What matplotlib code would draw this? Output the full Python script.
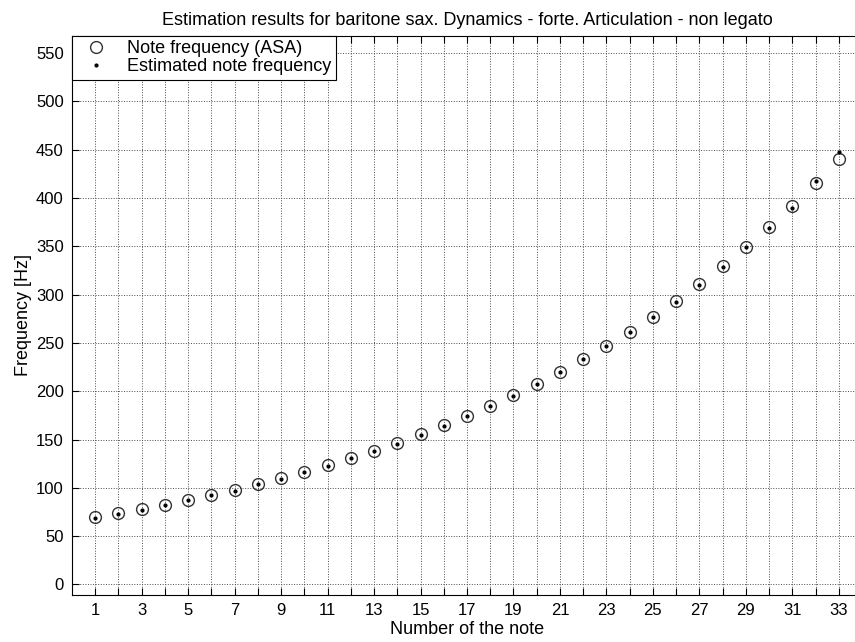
import numpy as np
import matplotlib
matplotlib.use('Agg')
import matplotlib.pyplot as plt

plt.rcParams['font.family'] = ['Liberation Sans', 'DejaVu Sans']

# note numbers and reference frequencies (Db2 .. A4)
notes = np.arange(1, 34)
asa_freq = [69.3, 73.4, 77.8, 82.4, 87.3, 92.5, 98.0, 103.8, 110.0, 116.5, 123.5,
            130.8, 138.6, 146.8, 155.6, 164.8, 174.6, 185.0, 196.0, 207.7, 220.0,
            233.1, 246.9, 261.6, 277.2, 293.7, 311.1, 329.6, 349.2, 370.0, 392.0,
            415.3, 440.0]
# frequencies returned by the estimator
est_freq = [69.0, 73.2, 77.5, 82.0, 87.0, 92.3, 96.5, 103.5, 109.0, 116.0, 123.0,
            130.5, 138.5, 145.5, 155.0, 164.5, 174.5, 185.0, 195.5, 208.0, 219.5,
            233.0, 247.0, 261.5, 276.5, 292.5, 310.5, 329.0, 349.0, 369.0, 390.0,
            418.0, 448.0]

fig = plt.figure(figsize=(8.55, 6.42), dpi=100)
ax = fig.add_axes([0.0842, 0.0732, 0.924, 0.871])

ax.plot(notes, asa_freq, 'o', mfc='none', mec='#333333', ms=8.5, mew=1.0,
        label='Note frequency (ASA)')
ax.plot(notes, est_freq, '.', color='black', ms=4,
        label='Estimated note frequency')

ax.set_xlim(0, 34)
ax.set_ylim(-11, 568)
ax.set_xticks(notes)
ax.set_xticklabels([str(n) if n % 2 else '' for n in notes])
ax.set_yticks(np.arange(0, 551, 50))
ax.tick_params(direction='in', length=5, width=0.8, top=True, right=True,
               labelsize=12, pad=6)
ax.grid(True, linestyle=':', color='0.3', linewidth=0.7)
for s in ax.spines.values():
    s.set_linewidth(0.8)

ax.set_title('Estimation results for baritone sax. Dynamics - forte. Articulation - non legato',
             fontsize=13, pad=8)
ax.set_xlabel('Number of the note', fontsize=13, labelpad=2)
ax.set_ylabel('Frequency [Hz]', fontsize=13, labelpad=3)

leg = ax.legend(loc='upper left', bbox_to_anchor=(0, 1), borderaxespad=0,
                fontsize=13, fancybox=False, framealpha=1, edgecolor='black',
                handletextpad=0.6, borderpad=0.25, labelspacing=0.05,
                handlelength=2.2)
leg.get_frame().set_linewidth(0.8)

fig.savefig('out.png', dpi=100)
